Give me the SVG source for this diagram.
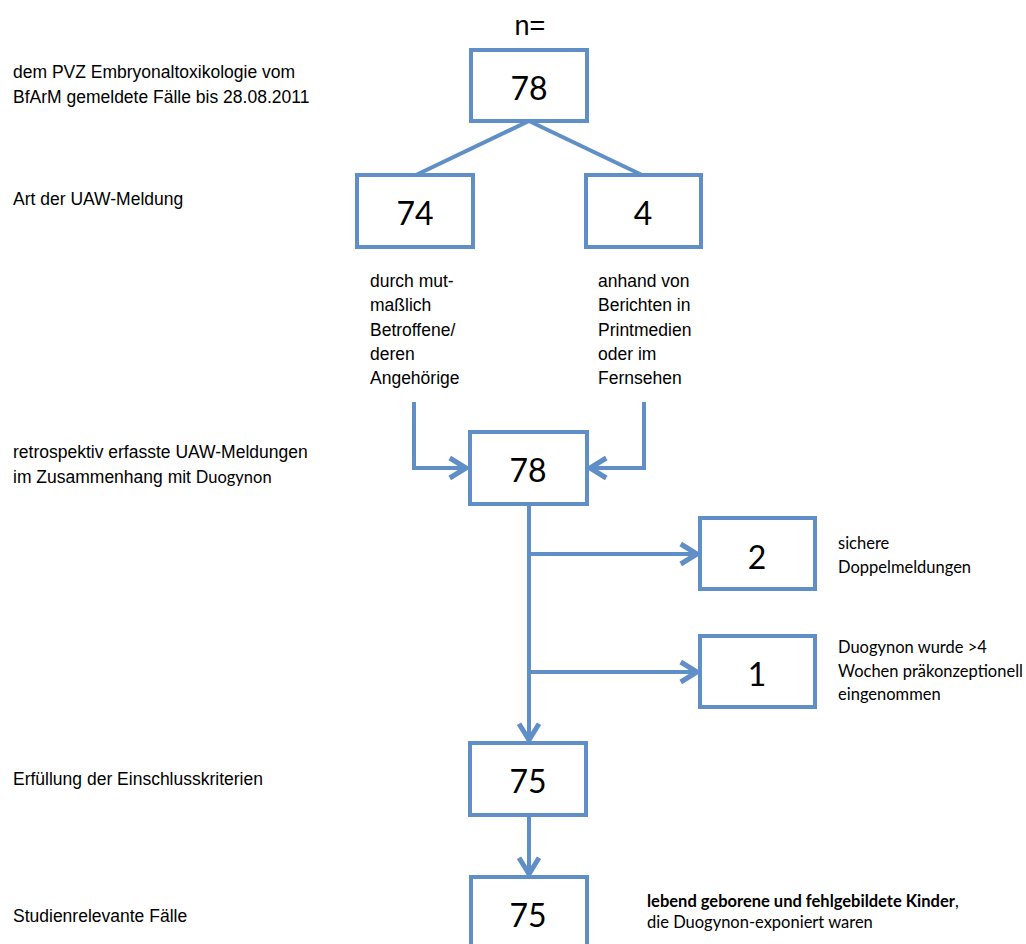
<svg xmlns="http://www.w3.org/2000/svg" width="1026" height="944" viewBox="0 0 1026 944">
<defs>
<style>
.box{fill:#ffffff;stroke:#5f8fc6;stroke-width:4}
.num{font-family:Lato,"Open Sans",sans-serif;font-size:32px;fill:#000;text-anchor:middle}
.lbl{font-family:"Liberation Sans",Arial,sans-serif;font-size:17.5px;fill:#000}
.cal{font-family:Lato,"Open Sans",sans-serif;font-size:16.5px;fill:#000}
.conn{fill:none;stroke:#5f8fc6;stroke-width:4}
</style>
<marker id="arr" markerUnits="userSpaceOnUse" markerWidth="30" markerHeight="30" viewBox="-18 -12 20 24" refX="0" refY="0" orient="auto">
<path d="M-13,-8 L0,0 L-13,8" fill="none" stroke="#5f8fc6" stroke-width="4"/>
</marker>
</defs>
<rect width="1026" height="944" fill="#ffffff"/>

<text x="530" y="35" font-family="Liberation Sans,Arial,sans-serif" font-size="27" text-anchor="middle">n=</text>

<g id="labels-left">
<text class="lbl" x="13" y="78">dem PVZ Embryonaltoxikologie vom</text>
<text class="lbl" x="13" y="103">BfArM gemeldete Fälle bis 28.08.2011</text>
<text class="lbl" x="13" y="205">Art der UAW-Meldung</text>
<text class="lbl" x="13" y="458">retrospektiv erfasste UAW-Meldungen</text>
<text class="lbl" x="13" y="483">im Zusammenhang mit <tspan font-family="Lato,sans-serif" font-size="16.5">Duogynon</tspan></text>
<text class="lbl" x="13" y="785">Erfüllung der Einschlusskriterien</text>
<text class="lbl" x="13" y="922">Studienrelevante Fälle</text>
</g>

<g id="connectors">
<line class="conn" x1="529" y1="121" x2="416" y2="175"/>
<line class="conn" x1="529" y1="121" x2="642" y2="175"/>
<polyline class="conn" points="414,402 414,468 466,468" marker-end="url(#arr)"/>
<polyline class="conn" points="644,402 644,468 590,468" marker-end="url(#arr)"/>
<line class="conn" x1="529" y1="504" x2="529" y2="740" marker-end="url(#arr)"/>
<line class="conn" x1="529" y1="554" x2="697" y2="554" marker-end="url(#arr)"/>
<line class="conn" x1="529" y1="672" x2="697" y2="672" marker-end="url(#arr)"/>
<line class="conn" x1="529" y1="815" x2="529" y2="874" marker-end="url(#arr)"/>
</g>

<g id="node-top">
<rect class="box" x="471" y="50" width="116" height="71"/>
<text class="num" x="529" y="100">78</text>
</g>
<g id="node-74">
<rect class="box" x="357" y="175" width="116" height="72"/>
<text class="num" x="415" y="225">74</text>
</g>
<g id="node-4">
<rect class="box" x="586" y="175" width="115" height="72"/>
<text class="num" x="643" y="225">4</text>
</g>
<g id="text-74">
<text class="lbl" x="370" y="287">durch mut-</text>
<text class="lbl" x="370" y="311">maßlich</text>
<text class="lbl" x="370" y="336">Betroffene/</text>
<text class="lbl" x="370" y="360">deren</text>
<text class="lbl" x="370" y="384">Angehörige</text>
</g>
<g id="text-4">
<text class="lbl" x="598" y="287">anhand von</text>
<text class="lbl" x="598" y="311">Berichten in</text>
<text class="lbl" x="598" y="336">Printmedien</text>
<text class="lbl" x="598" y="360">oder im</text>
<text class="lbl" x="598" y="384">Fernsehen</text>
</g>
<g id="node-mid">
<rect class="box" x="470" y="432" width="117" height="72"/>
<text class="num" x="528" y="482">78</text>
</g>
<g id="node-2">
<rect class="box" x="700" y="518" width="115" height="71"/>
<text class="num" x="757" y="569">2</text>
<text class="cal" x="838" y="549">sichere</text>
<text class="cal" x="838" y="573">Doppelmeldungen</text>
</g>
<g id="node-1">
<rect class="box" x="700" y="636" width="115" height="71"/>
<text class="num" x="757" y="686">1</text>
<text class="cal" x="838" y="653">Duogynon wurde &gt;4</text>
<text class="cal" x="838" y="677">Wochen präkonzeptionell</text>
<text class="cal" x="838" y="700">eingenommen</text>
</g>
<g id="node-75a">
<rect class="box" x="470" y="743" width="116" height="72"/>
<text class="num" x="528" y="793">75</text>
</g>
<g id="node-75b">
<rect class="box" x="471" y="877" width="116" height="80"/>
<text class="num" x="528" y="927">75</text>
<text class="cal" x="647" y="907" font-weight="bold" font-size="17">lebend geborene und fehlgebildete Kinder<tspan font-weight="normal">,</tspan></text>
<text class="cal" x="647" y="928">die Duogynon-exponiert waren</text>
</g>
</svg>
